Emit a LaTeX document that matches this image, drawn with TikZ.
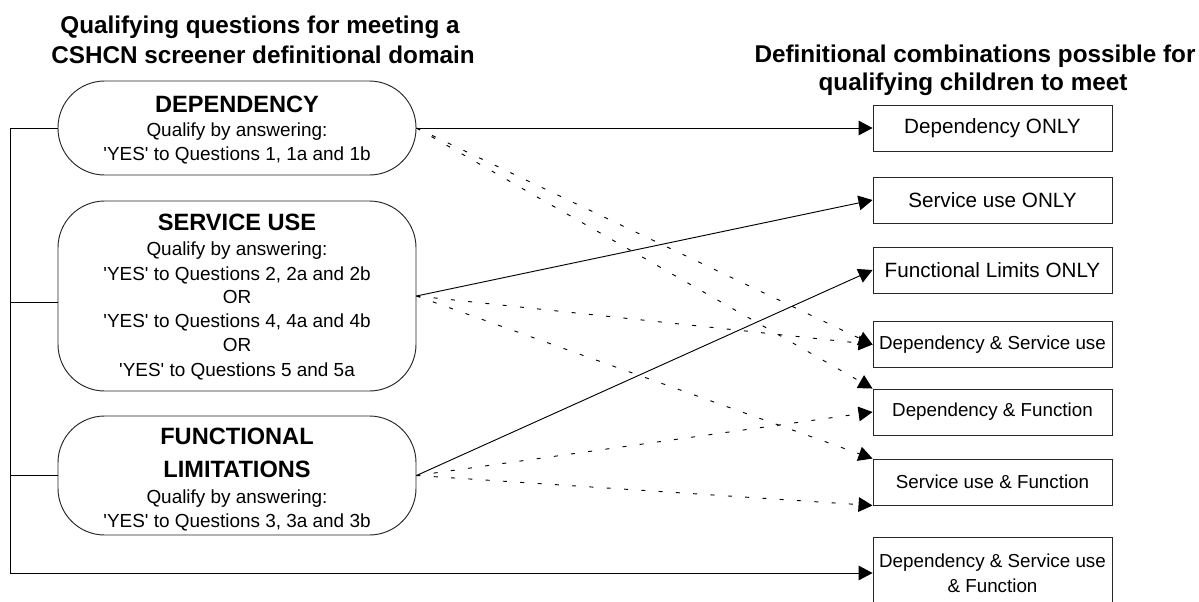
\documentclass[tikz,border=0pt]{standalone}
\usepackage{fontspec}
\setmainfont{Liberation Sans}
\usetikzlibrary{arrows.meta,calc}
\newcommand{\sq}{\textquotesingle}
\begin{document}
\begin{tikzpicture}[x=0.75pt,y=-0.75pt,
  lbox/.style={draw=black!85, line width=0.7pt, rounded corners=35pt, minimum width=268.5pt, inner sep=0pt},
  rbox/.style={draw=black!85, line width=0.7pt, minimum width=179.25pt, minimum height=34.5pt, inner sep=0pt, align=center},
  bigr/.style={font=\fontsize{15.5}{18}\selectfont},
  smallr/.style={font=\fontsize{14.1}{18.75}\selectfont},
  hd/.style={font=\fontsize{17.7}{20}\selectfont\bfseries, anchor=base, inner sep=0pt},
  bd/.style={font=\fontsize{14.2}{17}\selectfont, anchor=base, inner sep=0pt},
  ttl/.style={font=\fontsize{18.2}{22}\selectfont\bfseries, anchor=base, inner sep=0pt},
  conn/.style={line width=0.7pt, -{Triangle[length=10.5pt,width=11pt]}},
  dconn/.style={conn, dash pattern=on 3pt off 10pt},
  railline/.style={line width=0.7pt}]
\useasboundingbox (0,0) rectangle (1199,601);
\clip (0,0) rectangle (1199,601);
\fill[white] (0,0) rectangle (1199,601);

% titles
\node[ttl] (lt1) at (260,33) {Qualifying questions for meeting a};
\node[ttl] (lt2) at (263,63) {CSHCN screener definitional domain};
\node[ttl] (rt1) at (975,62) {Definitional combinations possible for};
\node[ttl] (rt2) at (973,90) {qualifying children to meet};

% left boxes
\node[lbox, minimum height=70.5pt] (dep) at (237,128) {};
\node[lbox, minimum height=142.5pt] (serv) at (237,296) {};
\node[lbox, minimum height=89.25pt] (func) at (237,475.5) {};

\node[hd] (depH) at (237,112) {DEPENDENCY};
\node[bd] (depA) at (237,136) {Qualify by answering:};
\node[bd] (depB) at (237,160) {\sq YES\sq{} to Questions 1, 1a and 1b};

\node[hd] (servH) at (237,230) {SERVICE USE};
\node[bd] (servA) at (237,255) {Qualify by answering:};
\node[bd] (servB) at (237,280) {\sq YES\sq{} to Questions 2, 2a and 2b};
\node[bd] (servC) at (237,303) {OR};
\node[bd] (servD) at (237,327) {\sq YES\sq{} to Questions 4, 4a and 4b};
\node[bd] (servE) at (237,351) {OR};
\node[bd] (servF) at (237,376) {\sq YES\sq{} to Questions 5 and 5a};

\node[hd] (funcH) at (237,444) {FUNCTIONAL};
\node[hd] (funcI) at (237,477) {LIMITATIONS};
\node[bd] (funcA) at (237,503) {Qualify by answering:};
\node[bd] (funcB) at (237,527) {\sq YES\sq{} to Questions 3, 3a and 3b};

% right boxes
\node[rbox, bigr] (r1) at (992.5,128) {Dependency ONLY};
\node[rbox, bigr] (r2) at (992.5,200) {Service use ONLY};
\node[rbox, bigr] (r3) at (992.5,270) {Functional Limits ONLY};
\node[rbox, smallr] (r4) at (992.5,344.5) {Dependency \& Service use};
\node[rbox, smallr] (r5) at (992.5,412) {Dependency \& Function};
\node[rbox, smallr] (r6) at (992.5,482) {Service use \& Function};
\node[rbox, smallr, minimum height=54pt] (r7) at (992.5,573) {Dependency \& Service use\\\& Function};

% left rail
\coordinate (railtop) at (10,128);
\coordinate (railbot) at (10,573);
\draw[railline] (railtop) -- (railbot);
\draw[railline] (dep.west -| railtop) -- (dep.west);
\draw[railline] ([yshift=-5pt]serv.west -| railtop) -- ([yshift=-5pt]serv.west);
\draw[railline] (func.west -| railtop) -- (func.west);
\draw[conn] (railbot) -- (r7.west);

% solid connectors
\draw[conn] (dep.east) -- (r1.west);
\draw[conn] (serv.east) -- (r2.west);
\draw[conn] (func.east) -- (r3.west);

% dotted connectors
\draw[dconn] (dep.east) -- (r4.west);
\draw[dconn] (dep.east) -- (r5.north west);
\draw[dconn] (serv.east) -- (r4.west);
\draw[dconn] (serv.east) -- (r6.north west);
\draw[dconn] (func.east) -- (r5.west);
\draw[dconn] (func.east) -- (r6.south west);
\end{tikzpicture}
\end{document}
